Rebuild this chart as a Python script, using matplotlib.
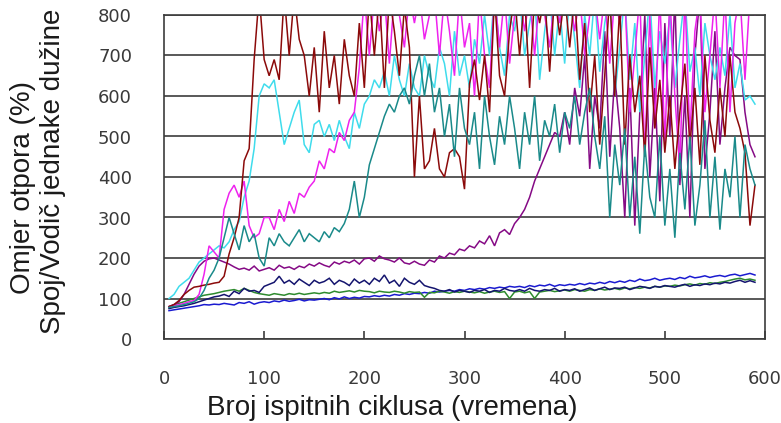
import matplotlib
matplotlib.use("Agg")
import matplotlib.pyplot as plt

cycles = list(range(5, 595, 5))  # 5 .. 590

maroon = [80, 85, 95, 110, 120, 128, 130, 133, 135, 138,
          140, 155, 210, 250, 300, 440, 470, 690, 850, 690,
          650, 690, 640, 850, 700, 850, 740, 700, 600, 720,
          560, 760, 620, 700, 580, 740, 650, 600, 780, 620,
          850, 700, 850, 620, 850, 760, 650, 820, 720, 400,
          600, 420, 440, 520, 420, 400, 460, 470, 450, 370,
          630, 690, 590, 700, 560, 850, 650, 600, 760, 850,
          700, 850, 620, 850, 780, 850, 660, 850, 750, 850,
          720, 850, 640, 780, 560, 700, 480, 650, 850, 600,
          820, 480, 700, 560, 650, 450, 720, 520, 640, 460,
          600, 420, 560, 680, 480, 620, 430, 700, 540, 460,
          620, 500, 700, 560, 520, 460, 280, 380]

cyan = [100, 110, 130, 140, 150, 170, 190, 200, 210, 220,
        230, 225, 240, 270, 290, 350, 390, 470, 600, 630,
        620, 640, 560, 480, 520, 560, 590, 480, 460, 530,
        540, 500, 530, 490, 540, 500, 470, 560, 520, 580,
        600, 640, 620, 660, 600, 700, 640, 600, 680, 620,
        600, 700, 650, 620, 720, 680, 600, 760, 650, 700,
        620, 740, 680, 800, 700, 850, 720, 650, 800, 760,
        850, 700, 780, 850, 640, 760, 850, 700, 820, 680,
        850, 740, 620, 800, 700, 850, 660, 780, 850, 600,
        720, 850, 640, 780, 560, 700, 850, 620, 760, 680,
        800, 620, 740, 850, 660, 720, 600, 780, 700, 640,
        720, 650, 800, 620, 680, 590, 600, 580]

magenta = [80, 82, 85, 88, 92, 95, 110, 160, 230, 215,
           200, 320, 360, 380, 350, 390, 280, 250, 260, 300,
           300, 270, 320, 290, 340, 310, 360, 350, 375, 390,
           440, 420, 470, 460, 510, 490, 540, 560, 670, 850,
           700, 850, 760, 850, 680, 850, 800, 720, 850, 780,
           850, 740, 800, 850, 700, 850, 760, 650, 850, 720,
           780, 600, 850, 700, 620, 850, 720, 850, 680, 800,
           850, 760, 850, 700, 850, 800, 720, 850, 780, 850,
           850, 760, 850, 700, 800, 850, 740, 850, 680, 850,
           780, 850, 560, 700, 850, 450, 800, 520, 850, 480,
           850, 600, 420, 850, 500, 760, 850, 560, 700, 850,
           620, 850, 560, 780, 850, 640, 850, 800]

teal = [78, 80, 82, 85, 88, 92, 100, 120, 150, 170,
        200, 250, 300, 260, 220, 280, 240, 260, 200, 180,
        250, 230, 260, 240, 230, 250, 270, 240, 260, 250,
        240, 265, 250, 275, 265, 285, 320, 390, 300, 350,
        430, 470, 510, 550, 580, 560, 600, 620, 580, 650,
        700, 600, 680, 560, 620, 500, 580, 450, 620, 520,
        480, 560, 420, 600, 500, 430, 550, 480, 600, 520,
        420, 560, 480, 600, 440, 540, 500, 580, 460, 560,
        520, 600, 480, 560, 620, 500, 420, 550, 300, 480,
        380, 520, 300, 450, 260, 480, 350, 300, 500, 280,
        420, 250, 460, 320, 500, 280, 380, 540, 300, 450,
        270, 420, 350, 500, 300, 480, 420, 380]

purple = [80, 85, 92, 110, 135, 160, 180, 192, 198, 200,
          195, 190, 185, 178, 172, 175, 170, 180, 168, 172,
          176, 170, 182, 175, 178, 172, 180, 176, 185, 180,
          188, 182, 178, 190, 185, 192, 188, 195, 185, 198,
          200, 192, 205, 198, 195, 190, 200, 188, 185, 192,
          185, 182, 195, 190, 205, 200, 212, 208, 222, 218,
          230, 225, 242, 235, 255, 230, 262, 270, 258, 285,
          300, 320, 350, 390, 420, 450, 480, 510, 500, 560,
          480, 620, 550, 700, 420, 600, 520, 760, 450, 650,
          520, 300, 620, 280, 560, 800, 400, 620, 340, 780,
          500, 850, 380, 600, 300, 700, 850, 420, 560, 760,
          480, 620, 720, 700, 690, 560, 480, 450]

navy = [75, 78, 80, 82, 85, 88, 92, 96, 100, 104,
        106, 110, 105, 118, 112, 125, 118, 120, 115, 130,
        135, 140, 155, 138, 145, 135, 148, 140, 132, 145,
        138, 142, 150, 135, 145, 140, 132, 148, 138, 145,
        135, 150, 142, 158, 138, 145, 130, 150, 140, 135,
        145, 132, 128, 125, 120, 118, 122, 116, 120, 118,
        115, 120, 118, 122, 115, 120, 118, 125, 120, 118,
        122, 118, 125, 120, 118, 122, 120, 125, 118, 122,
        120, 124, 118, 122, 126, 120, 124, 128, 122, 126,
        125, 128, 122, 126, 130, 128, 125, 130, 128, 132,
        130, 128, 132, 135, 130, 134, 132, 136, 134, 138,
        136, 140, 138, 142, 145, 140, 144, 140]

blue = [70, 72, 74, 76, 78, 80, 82, 85, 84, 86,
        85, 88, 86, 84, 90, 88, 92, 86, 90, 92,
        90, 94, 92, 96, 93, 95, 98, 94, 97, 96,
        98, 100, 97, 102, 99, 104, 100, 103, 101, 105,
        104, 107, 105, 108, 106, 110, 108, 112, 110, 113,
        112, 115, 113, 118, 116, 118, 120, 118, 122, 120,
        124, 122, 125, 123, 127, 125, 128, 126, 130, 128,
        130, 127, 132, 129, 133, 131, 135, 130, 134, 132,
        135, 133, 137, 134, 138, 136, 140, 137, 142, 139,
        143, 140, 145, 142, 148, 144, 146, 150, 145, 148,
        150, 147, 152, 149, 155, 151, 153, 156, 152, 155,
        157, 154, 158, 160, 156, 159, 162, 158]

green = [80, 84, 88, 92, 96, 100, 104, 108, 110, 112,
         115, 118, 120, 122, 118, 125, 120, 115, 112, 110,
         108, 112, 110, 108, 112, 110, 113, 110, 112, 114,
         112, 115, 113, 118, 115, 117, 119, 116, 120, 118,
         117, 114, 118, 116, 115, 118, 116, 113, 117, 115,
         116, 103, 115, 114, 118, 116, 113, 117, 115, 118,
         116, 114, 117, 113, 116, 118, 115, 117, 100, 116,
         118, 114, 117, 100, 116, 118, 120, 117, 119, 121,
         118, 122, 120, 118, 122, 120, 124, 121, 123, 125,
         122, 126, 124, 127, 125, 128, 126, 130, 128, 131,
         130, 133, 131, 134, 136, 133, 137, 135, 139, 137,
         140, 142, 145, 148, 150, 146, 148, 145]

x_ticks = [0, 100, 200, 300, 400, 500, 600]
y_ticks = [0, 100, 200, 300, 400, 500, 600, 700, 800]

series = [
    (blue, "#1a1ad0"),
    (green, "#2e8b2e"),
    (navy, "#14146e"),
    (purple, "#850a85"),
    (cyan, "#3fdcec"),
    (magenta, "#ee22ee"),
    (maroon, "#8b0a0a"),
    (teal, "#1a8a8a"),
]

W, H = 781, 423
fig = plt.figure(figsize=(W / 100, H / 100), dpi=100)
ax = fig.add_axes([164 / W, 1 - 339 / H, (765 - 164) / W, (339 - 15) / H])

for vals, col in series:
    ax.plot(cycles, vals, color=col, lw=1.1, solid_joinstyle="miter")

ax.set_xlim(0, 600)
ax.set_ylim(0, 800)
ax.set_xticks(x_ticks)
ax.set_yticks(y_ticks)
ax.yaxis.grid(True, color="#3c3c3c", lw=1.2)
ax.set_axisbelow(True)
for s in ax.spines.values():
    s.set_color("#3c3c3c")
    s.set_linewidth(1.2)

ax.tick_params(axis="x", direction="in", length=6, width=1.2, color="#3c3c3c",
               pad=22, labelsize=13, labelcolor="#3a3a3a")
ax.tick_params(axis="y", direction="in", length=0, pad=23,
               labelsize=13, labelcolor="#3a3a3a")
for lab in ax.get_xticklabels() + ax.get_yticklabels():
    lab.set_family("DejaVu Sans")

fig.text(392 / W, 1 - 408 / H, "Broj ispitnih ciklusa (vremena)", ha="center",
         va="center", fontsize=20, family="Liberation Sans", color="#1a1a1a")
fig.text(23 / W, 1 - 187 / H, "Omjer otpora (%)", rotation=90, ha="center",
         va="center", fontsize=20, family="Liberation Sans", color="#1a1a1a")
fig.text(53 / W, 1 - 171 / H, "Spoj/Vodič jednake dužine", rotation=90,
         ha="center", va="center", fontsize=20, family="Liberation Sans",
         color="#1a1a1a")

fig.savefig("out.png", dpi=100)
